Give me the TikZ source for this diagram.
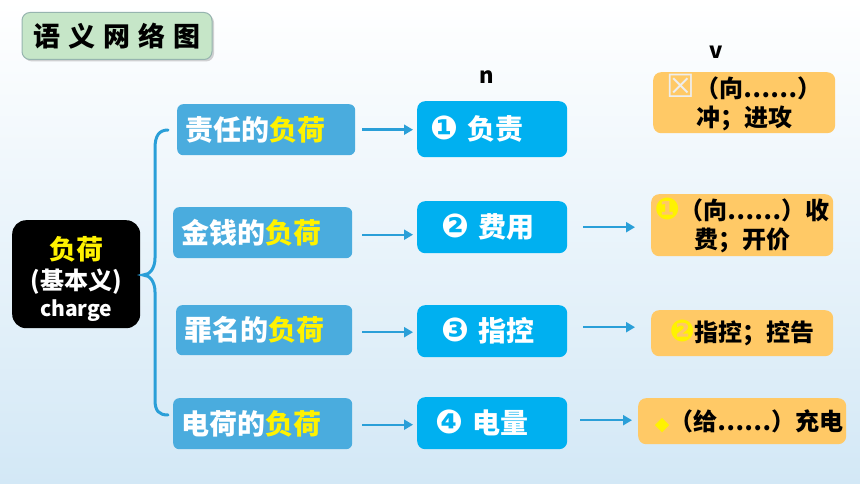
\documentclass[tikz,border=0pt]{standalone}
\usepackage{fontspec}
\setmainfont{Noto Sans CJK SC}
\newfontfamily\symf{DejaVu Sans}
\usetikzlibrary{arrows.meta,shadows}
\definecolor{bgbot}{RGB}{211,232,246}
\definecolor{boxA}{RGB}{74,172,222}
\definecolor{boxB}{RGB}{0,176,240}
\definecolor{boxC}{RGB}{255,201,102}
\definecolor{arrowc}{RGB}{42,159,216}
\definecolor{titleg}{RGB}{198,230,200}
\definecolor{titleb}{RGB}{150,180,175}
\definecolor{paleg}{RGB}{238,238,238}
\tikzset{
  abox/.style={fill=boxA, rounded corners=6pt, anchor=north west, inner xsep=8pt, inner ysep=0pt,
    align=left, text=white, font=\bfseries\fontsize{28}{32}\selectfont},
  bbox/.style={fill=boxB, rounded corners=8pt, anchor=north west, inner xsep=0pt, inner ysep=0pt,
    text width=150pt, align=left, text=white, font=\bfseries\fontsize{28}{32}\selectfont},
  cbox/.style={fill=boxC, rounded corners=8pt, anchor=north west, inner xsep=0pt, inner ysep=0pt,
    align=center, text=black, font=\bfseries\fontsize{24}{29}\selectfont},
  conn/.style={draw=arrowc, line width=2.4pt, -{Triangle[length=9pt,width=10pt]}},
  lbl/.style={font=\bfseries\fontsize{22}{24}\selectfont, text=black}
}
\newcommand{\hl}[1]{\textcolor{yellow}{#1}}
\newcommand{\dig}[1]{{\symf\fontsize{33}{30}\selectfont #1}}
\begin{document}
\begin{tikzpicture}[x=1pt,y=-1pt]
\useasboundingbox (0,0) rectangle (860,484);
\shade[top color=white, bottom color=bgbot] (0,0) rectangle (860,484);

% title
\node[fill=titleg, draw=titleb, line width=1pt, rounded corners=8pt, minimum width=190pt, minimum height=47pt,
  drop shadow={shadow xshift=2pt, shadow yshift=-2pt, opacity=0.35}, font=\bfseries\fontsize{27}{30}\selectfont]
  (title) at (117,36) {语\hspace{8pt}义\hspace{8pt}网\hspace{8pt}络\hspace{8pt}图};

% core
\node[fill=black, rounded corners=14pt, anchor=north west, minimum width=128pt, minimum height=108pt,
  inner sep=0pt, align=center, text=white, font=\bfseries\fontsize{24}{30}\selectfont]
  (core) at (12,220) {{\fontsize{27}{30}\selectfont\rule{0pt}{32pt}\hl{负荷}}\\(基本义)\\[-3pt]{\fontsize{21}{24}\selectfont charge}};

% brace
\coordinate (bt) at (168,130);
\coordinate (bm) at (143,275);
\coordinate (bb) at (168,415);
\draw[arrowc, line width=3pt, line cap=round]
  (bt) .. controls (159,130) and (155,136) .. (155,148) -- (155,258)
  .. controls (155,268) and (150,275) .. (bm)
  .. controls (150,275) and (155,282) .. (155,292) -- (155,400)
  .. controls (155,411) and (159,415) .. (bb);

% left column
\node[abox, text width=162pt, minimum height=51pt] (a1) at (177,104) {责任的\hl{负荷}};
\node[abox, text width=163pt, minimum height=51pt] (a2) at (173,207) {金钱的\hl{负荷}};
\node[abox, text width=160pt, minimum height=50pt] (a3) at (176,305) {罪名的\hl{负荷}};
\node[abox, text width=163pt, minimum height=51pt] (a4) at (173,398) {电荷的\hl{负荷}};

% middle column
\node[lbl] (n) at (487,77) {n};
\node[bbox, minimum height=56pt] (b1) at (417,101) {\hspace*{13pt}\dig{❶} 负责};
\node[bbox, minimum height=52pt] (b2) at (417,201) {\hspace*{24pt}\dig{❷} 费用};
\node[bbox, minimum height=52pt] (b3) at (417,305) {\hspace*{24pt}\dig{❸} 指控};
\node[bbox, minimum height=52pt] (b4) at (417,397) {\hspace*{18pt}\dig{❹} 电量};

% right column
\node[lbl] (v) at (716,52) {v};
\node[cbox, minimum width=182pt, minimum height=61pt] (c1) at (653,72)
  {{\symf\color{paleg}\fontsize{32}{29}\selectfont ☒}（向……）\\冲；进攻};
\node[cbox, minimum width=182pt, minimum height=62pt] (c2) at (651,194)
  {{\symf\color{yellow}\fontsize{30}{29}\selectfont ❶}（向……）收\\费；开价};
\node[cbox, minimum width=182pt, minimum height=46pt] (c3) at (651,310)
  {{\symf\color{yellow}\fontsize{30}{29}\selectfont ❷}指控；控告};
\node[cbox, minimum width=208pt, minimum height=46pt] (c4) at (638,398)
  {\hspace*{14pt}{\symf\color{yellow}\fontsize{19}{24}\selectfont ◆}（给……）充电};

% connectors
\draw[conn, shorten <=7pt, shorten >=4pt] (a1.east) -- (a1.east -| b1.west);
\draw[conn, shorten <=10pt, shorten >=4pt] ([yshift=-2pt]a2.east) -- ([yshift=-2pt]a2.east -| b2.west);
\draw[conn, shorten <=10pt, shorten >=4pt] ([yshift=-2pt]a3.east) -- ([yshift=-2pt]a3.east -| b3.west);
\draw[conn, shorten <=10pt, shorten >=4pt] ([yshift=-1pt]a4.east) -- ([yshift=-1pt]a4.east -| b4.west);
\draw[conn, shorten <=16pt, shorten >=16pt] (b2.east) -- (b2.east -| c2.west);
\draw[conn, shorten <=16pt, shorten >=16pt] ([yshift=4pt]b3.east) -- ([yshift=4pt]b3.east -| c3.west);
\draw[conn, shorten <=13pt, shorten >=6pt] ([yshift=3pt]b4.east) -- ([yshift=3pt]b4.east -| c4.west);
\end{tikzpicture}
\end{document}
